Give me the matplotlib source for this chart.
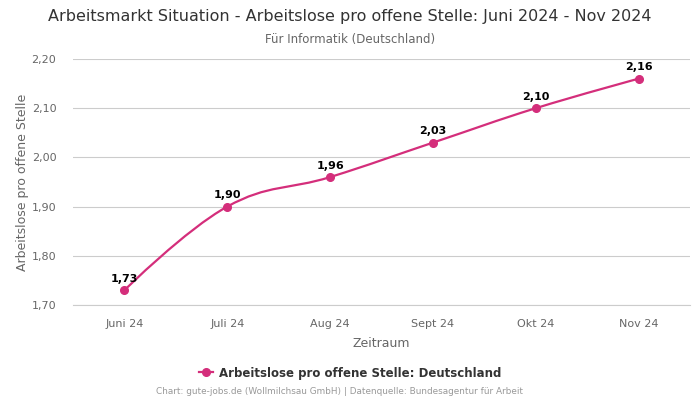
import matplotlib
matplotlib.use("Agg")
import matplotlib.pyplot as plt
from matplotlib.path import Path
from matplotlib.patches import PathPatch
from matplotlib.lines import Line2D

categories = ["Juni 24", "Juli 24", "Aug 24", "Sept 24", "Okt 24", "Nov 24"]
values = [1.73, 1.90, 1.96, 2.03, 2.10, 2.16]
yticks = [1.70, 1.80, 1.90, 2.00, 2.10, 2.20]
series_name = "Arbeitslose pro offene Stelle: Deutschland"
color = "#d42e7b"

plt.rcParams['font.family'] = ['DejaVu Sans']
fig = plt.figure(figsize=(7, 4), dpi=100)
ax = fig.add_axes([73/700, 1-305/400, 617/700, 246/400])

xs = list(range(len(values)))

def spline_path(x, y, s=1.5):
    d = s + 1
    n = len(x)
    lc = [None]*n
    rc = [None]*n
    for i in range(n):
        if i == 0 or i == n-1:
            lc[i] = (x[i], y[i]); rc[i] = (x[i], y[i]); continue
        lx = (s*x[i] + x[i-1])/d; ly = (s*y[i] + y[i-1])/d
        rx = (s*x[i] + x[i+1])/d; ry = (s*y[i] + y[i+1])/d
        corr = ((ry - ly)*(rx - x[i]))/(rx - lx) + y[i] - ry
        ly += corr; ry += corr
        if ly > y[i-1] and ly > y[i]:
            ly = max(y[i-1], y[i]); ry = 2*y[i] - ly
        elif ly < y[i-1] and ly < y[i]:
            ly = min(y[i-1], y[i]); ry = 2*y[i] - ly
        if ry > y[i+1] and ry > y[i]:
            ry = max(y[i+1], y[i]); ly = 2*y[i] - ry
        elif ry < y[i+1] and ry < y[i]:
            ry = min(y[i+1], y[i]); ly = 2*y[i] - ry
        lc[i] = (lx, ly); rc[i] = (rx, ry)
    verts = [(x[0], y[0])]
    codes = [Path.MOVETO]
    for i in range(1, n):
        verts += [rc[i-1], lc[i], (x[i], y[i])]
        codes += [Path.CURVE4]*3
    return Path(verts, codes)

ax.add_patch(PathPatch(spline_path(xs, values), facecolor='none', edgecolor=color, lw=1.6, zorder=3))
ax.plot(xs, values, 'o', color=color, ms=5.5, zorder=4)
for x, v in zip(xs, values):
    ax.annotate(f"{v:.2f}".replace('.', ','), (x, v), xytext=(0, 4.5), textcoords='offset points',
                ha='center', va='bottom', fontsize=8, fontweight='bold', color='black')

ax.set_xlim(-0.5, len(values)-0.5)
ax.set_ylim(1.70, 2.20)
ax.set_yticks(yticks)
ax.set_yticklabels([f"{t:.2f}".replace('.', ',') for t in yticks])
ax.set_xticks(xs)
ax.set_xticklabels(categories)
ax.tick_params(axis='both', length=0, labelsize=8, colors='#666666')
ax.tick_params(axis='x', pad=10)
ax.tick_params(axis='y', pad=12)
ax.grid(axis='y', color='#cccccc', lw=0.8)
ax.set_axisbelow(True)
for sp in ['top', 'right', 'left']:
    ax.spines[sp].set_visible(False)
ax.spines['bottom'].set_color('#cccccc')
ax.set_xlabel("Zeitraum", fontsize=9, color='#666666', labelpad=6)
ax.set_ylabel("Arbeitslose pro offene Stelle", fontsize=9, color='#666666', labelpad=2)

fig.text(0.5, 1-17/400, "Arbeitsmarkt Situation - Arbeitslose pro offene Stelle: Juni 2024 - Nov 2024",
         ha='center', va='center', fontsize=11.5, color='#333333')
fig.text(0.5, 1-39/400, "Für Informatik (Deutschland)", ha='center', va='center', fontsize=8.5, color='#666666')

handle = Line2D([0], [0], color=color, marker='o', ms=5.5, lw=1.6)
fig.legend([handle], [series_name], loc='center', bbox_to_anchor=(0.5, 1-373/400), frameon=False,
           prop={'size': 8.5, 'weight': 'bold'}, labelcolor='#333333', handlelength=1.2, handletextpad=0.5)
fig.text(340/700, 1-392/400, "Chart: gute-jobs.de (Wollmilchsau GmbH) | Datenquelle: Bundesagentur für Arbeit",
         ha='center', va='center', fontsize=6.4, color='#999999')

fig.savefig("out.png", dpi=100)
